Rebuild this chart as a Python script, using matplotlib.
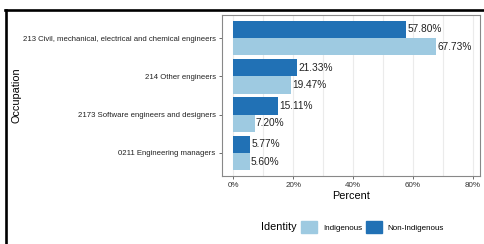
import matplotlib.pyplot as plt
import matplotlib.patches as mpatches
from matplotlib.lines import Line2D
import numpy as np

plt.rcParams['font.family'] = ['Liberation Sans', 'DejaVu Sans']

occupations = [
    "213 Civil, mechanical, electrical and chemical engineers",
    "214 Other engineers",
    "2173 Software engineers and designers",
    "0211 Engineering managers",
]
non_indigenous = [57.80, 21.33, 15.11, 5.77]
indigenous = [67.73, 19.47, 7.20, 5.60]
x_ticks = [0, 20, 40, 60, 80]

dark = "#2171b5"
light = "#9ecae1"

fig = plt.figure(figsize=(4.85, 2.44), dpi=100)
ax = fig.add_axes([0.4577, 0.2787, 0.5320, 0.6598])

pos = np.arange(len(occupations))
bar_h = 0.45
ax.barh(pos - bar_h / 2, non_indigenous, height=bar_h, color=dark, zorder=3)
ax.barh(pos + bar_h / 2, indigenous, height=bar_h, color=light, zorder=3)

# value labels next to bars
for p, v in zip(pos, non_indigenous):
    ax.text(v + 0.3, p - bar_h / 2, f"{v:.2f}%", va="center", ha="left", fontsize=7.3, color="#222222", zorder=4)
for p, v in zip(pos, indigenous):
    ax.text(v + 0.3, p + bar_h / 2, f"{v:.2f}%", va="center", ha="left", fontsize=7.3, color="#222222", zorder=4)

ax.set_ylim(len(occupations) - 0.4, -0.6)
ax.set_xlim(-3.7, 82.3)
ax.set_yticks(pos)
ax.set_yticklabels(occupations, fontsize=5.6, color="#222222")
ax.set_xticks(x_ticks)
ax.set_xticklabels([f"{t}%" for t in x_ticks], fontsize=5.8, color="#333333")
ax.set_xticks([10, 30, 50, 70], minor=True)
ax.grid(axis="x", which="both", color="#ebebeb", linewidth=0.8, zorder=0)
ax.tick_params(axis="both", which="major", length=2.5, width=0.6, color="#555555", pad=2)
ax.tick_params(axis="x", which="minor", length=0)
for s in ax.spines.values():
    s.set_color("#888888")
    s.set_linewidth(0.8)

ax.set_xlabel("Percent", fontsize=7.8, labelpad=1.5)
fig.text(0.033, 0.61, "Occupation", rotation=90, va="center", ha="center", fontsize=7.8)

# legend: title on the left, keys to the right
fig.text(297 / 485, 1 - 227 / 244, "Identity", ha="right", va="center", fontsize=7.8)
handles = [
    mpatches.Patch(color=light, label="Indigenous"),
    mpatches.Patch(color=dark, label="Non-Indigenous"),
]
fig.legend(handles=handles, loc="center left", bbox_to_anchor=(301 / 485, 1 - 227 / 244), ncol=2,
           frameon=False, fontsize=5.8, borderpad=0, borderaxespad=0,
           handlelength=2.0, handleheight=2.0, handletextpad=0.7, columnspacing=0.5)

# black frame edges (top and left)
fig.add_artist(Line2D([5 / 485, 1], [1 - 10 / 244, 1 - 10 / 244], color="black", linewidth=1.9))
fig.add_artist(Line2D([6 / 485, 6 / 485], [0, 1 - 10 / 244], color="black", linewidth=1.9))

fig.savefig("out.png", dpi=100)
